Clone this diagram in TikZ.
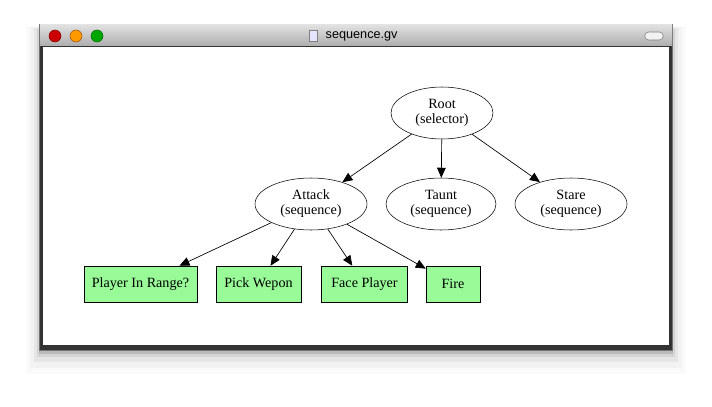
\documentclass[tikz,border=0pt]{standalone}
\usepackage{fontspec}
\setmainfont{Liberation Serif}
\newfontfamily\uifont{Liberation Sans}
\usetikzlibrary{shapes.geometric,arrows.meta}
\begin{document}
\begin{tikzpicture}[x=0.75pt,y=-0.75pt,
  ell/.style={draw,ellipse,minimum width=#1*0.75pt,minimum height=39pt,inner sep=0pt,font=\fontsize{10.6}{11.2}\selectfont,align=center},
  box/.style={draw,fill=palegreen,rectangle,minimum width=#1*0.75pt,minimum height=27pt,inner sep=0pt,font=\fontsize{10.6}{11.2}\selectfont},
  edge/.style={-{Triangle[length=7.5,width=6.5]},line width=0.5pt}]
\definecolor{palegreen}{HTML}{98FB98}
\useasboundingbox (0,0) rectangle (712,406);
% shadow
\foreach \i/\o in {14/0.02,10/0.03,6/0.05,3/0.08,1/0.12}{
  \fill[black,opacity=\o] (40-\i,30-\i*0.3) rectangle (672+\i,352+\i*1.6);}
% window
\fill[black!55] (39,24) rectangle (673,351);
\shade[top color=black!12,bottom color=black!32] (40,25) rectangle (672,46);
\fill[black!80] (40,46) rectangle (672,350);
\fill[white] (43,47) rectangle (669,345);
\node[circle,fill=red!80!black,draw=red!50!black,minimum size=9pt,inner sep=0] (b1) at (55,36) {};
\node[circle,fill=orange!80!yellow,draw=orange!60!black,minimum size=9pt,inner sep=0] (b2) at (76,36) {};
\node[circle,fill=green!65!black,draw=green!40!black,minimum size=9pt,inner sep=0] (b3) at (97,36) {};
\node[draw=black!50,fill=black!5,rounded corners=3,minimum width=14pt,minimum height=6pt,inner sep=0] (pill) at (654,36) {};
\node[draw=black!50,fill=blue!10,minimum width=6pt,minimum height=8pt,inner sep=0] (icon) at (313,36) {};
\node[font=\uifont\fontsize{9.5}{11}\selectfont,anchor=west] (title) at (321,36) {sequence.gv};
% graph
\node[ell=102] (root) at (442,113) {Root\\(selector)};
\node[ell=112] (attack) at (311,204) {Attack\\(sequence)};
\node[ell=110] (taunt) at (441,204) {Taunt\\(sequence)};
\node[ell=112] (stare) at (571,204) {Stare\\(sequence)};
\node[box=113] (p1) at (140.5,284) {Player In Range?};
\node[box=85] (p2) at (258.5,284) {Pick Wepon};
\node[box=86] (p3) at (364.5,284) {Face Player};
\node[box=54] (p4) at (453,284) {Fire};
\draw[edge] (root) -- (attack);
\draw[edge] (root) -- (taunt);
\draw[edge] (root) -- (stare);
\draw[edge] (attack) -- (p1);
\draw[edge] (attack) -- (p2);
\draw[edge] (attack) -- (p3);
\draw[edge] (attack) -- (p4);
\end{tikzpicture}
\end{document}
